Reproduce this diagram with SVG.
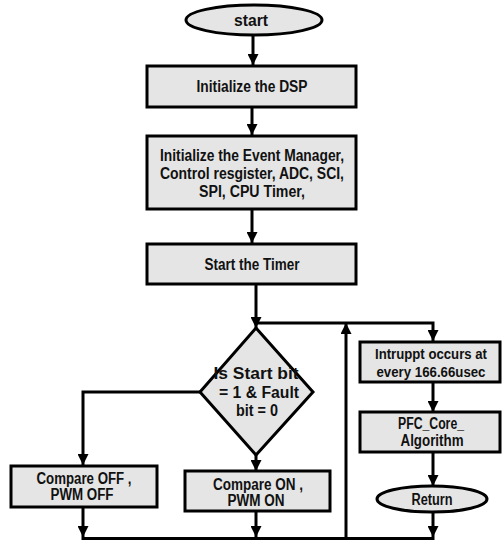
<svg xmlns="http://www.w3.org/2000/svg" width="502" height="540" viewBox="0 0 502 540">
  <style>
    .shape { fill: #e5e5e5; stroke: #000; stroke-width: 3; }
    .wire { fill: none; stroke: #000; stroke-width: 3; }
    .lbl { font-family: "Liberation Sans", Arial, sans-serif; font-weight: bold; font-size: 16px; fill: #111; text-anchor: middle; }
    .sm { font-size: 15px; }
  </style>
  <defs>
    <marker id="arrow" viewBox="0 0 10 10" refX="10" refY="5" markerWidth="11" markerHeight="11" markerUnits="userSpaceOnUse" orient="auto">
      <path d="M0,0 L10,5 L0,10 Z" fill="#000"/>
    </marker>
  </defs>
  <rect width="502" height="540" fill="#fff"/>

  <!-- connectors -->
  <g id="connectors">
    <line class="wire" x1="253" y1="36" x2="253" y2="65" marker-end="url(#arrow)"/>
    <line class="wire" x1="252" y1="107" x2="252" y2="135" marker-end="url(#arrow)"/>
    <line class="wire" x1="252" y1="209" x2="252" y2="243" marker-end="url(#arrow)"/>
    <line class="wire" x1="256" y1="284" x2="256" y2="328" marker-end="url(#arrow)"/>
    <polyline class="wire" points="256,323 433,323 433,341" marker-end="url(#arrow)"/>
    <polyline class="wire" points="200,392 83,392 83,465" marker-end="url(#arrow)"/>
    <line class="wire" x1="83" y1="507" x2="83" y2="537" marker-end="url(#arrow)"/>
    <line class="wire" x1="256" y1="455" x2="256" y2="471" marker-end="url(#arrow)"/>
    <line class="wire" x1="256" y1="511" x2="256" y2="537" marker-end="url(#arrow)"/>
    <line class="wire" x1="81.5" y1="538.5" x2="434.5" y2="538.5"/>
    <line class="wire" x1="346" y1="538" x2="346" y2="323" marker-end="url(#arrow)"/>
    <line class="wire" x1="433" y1="382" x2="433" y2="412" marker-end="url(#arrow)"/>
    <line class="wire" x1="433" y1="452" x2="433" y2="486" marker-end="url(#arrow)"/>
    <line class="wire" x1="433" y1="512" x2="433" y2="537" marker-end="url(#arrow)"/>
  </g>

  <g id="start">
    <ellipse class="shape" cx="254" cy="20" rx="68" ry="15"/>
    <text class="lbl" x="251" y="26" textLength="34" lengthAdjust="spacingAndGlyphs">start</text>
  </g>

  <g id="init-dsp">
    <rect class="shape" x="147" y="66" width="209" height="41"/>
    <text class="lbl" x="252" y="92" textLength="111" lengthAdjust="spacingAndGlyphs">Initialize the DSP</text>
  </g>

  <g id="init-peripherals">
    <rect class="shape" x="147" y="136" width="209" height="73"/>
    <text class="lbl" x="252" y="161" textLength="184" lengthAdjust="spacingAndGlyphs">Initialize the Event Manager,</text>
    <text class="lbl" x="252" y="179" textLength="184" lengthAdjust="spacingAndGlyphs">Control resgister, ADC, SCI,</text>
    <text class="lbl" x="252" y="197" textLength="106" lengthAdjust="spacingAndGlyphs">SPI, CPU Timer,</text>
  </g>

  <g id="start-timer">
    <rect class="shape" x="147" y="244" width="209" height="40"/>
    <text class="lbl" x="252" y="270" textLength="95" lengthAdjust="spacingAndGlyphs">Start the Timer</text>
  </g>

  <g id="decision">
    <polygon class="shape" points="256,328 313,392 256,455 200,392"/>
    <text class="lbl" x="256" y="379" textLength="85" lengthAdjust="spacingAndGlyphs">Is Start bit</text>
    <text class="lbl" x="259" y="398" textLength="80" lengthAdjust="spacingAndGlyphs">= 1 &amp; Fault</text>
    <text class="lbl" x="257" y="416" textLength="42" lengthAdjust="spacingAndGlyphs">bit = 0</text>
  </g>

  <g id="compare-off">
    <rect class="shape" x="11" y="466" width="146" height="41"/>
    <text class="lbl" x="84" y="484" textLength="95" lengthAdjust="spacingAndGlyphs">Compare OFF ,</text>
    <text class="lbl" x="82" y="500" textLength="63" lengthAdjust="spacingAndGlyphs">PWM OFF</text>
  </g>

  <g id="compare-on">
    <rect class="shape" x="185" y="471" width="145" height="40"/>
    <text class="lbl" x="258" y="490" textLength="90" lengthAdjust="spacingAndGlyphs">Compare ON ,</text>
    <text class="lbl" x="256" y="506" textLength="57" lengthAdjust="spacingAndGlyphs">PWM ON</text>
  </g>

  <g id="interrupt">
    <rect class="shape" x="360" y="342" width="140" height="40"/>
    <text class="lbl sm" x="431" y="359" textLength="112" lengthAdjust="spacingAndGlyphs">Intruppt occurs at</text>
    <text class="lbl sm" x="431" y="377" textLength="109" lengthAdjust="spacingAndGlyphs">every 166.66usec</text>
  </g>

  <g id="pfc-core">
    <rect class="shape" x="360" y="412" width="140" height="40"/>
    <text class="lbl" x="431" y="429" textLength="66" lengthAdjust="spacingAndGlyphs">PFC_Core_</text>
    <text class="lbl" x="432" y="446" textLength="63" lengthAdjust="spacingAndGlyphs">Algorithm</text>
  </g>

  <g id="return">
    <ellipse class="shape" cx="432" cy="499" rx="55" ry="13"/>
    <text class="lbl" x="432" y="505" textLength="41" lengthAdjust="spacingAndGlyphs">Return</text>
  </g>
</svg>
